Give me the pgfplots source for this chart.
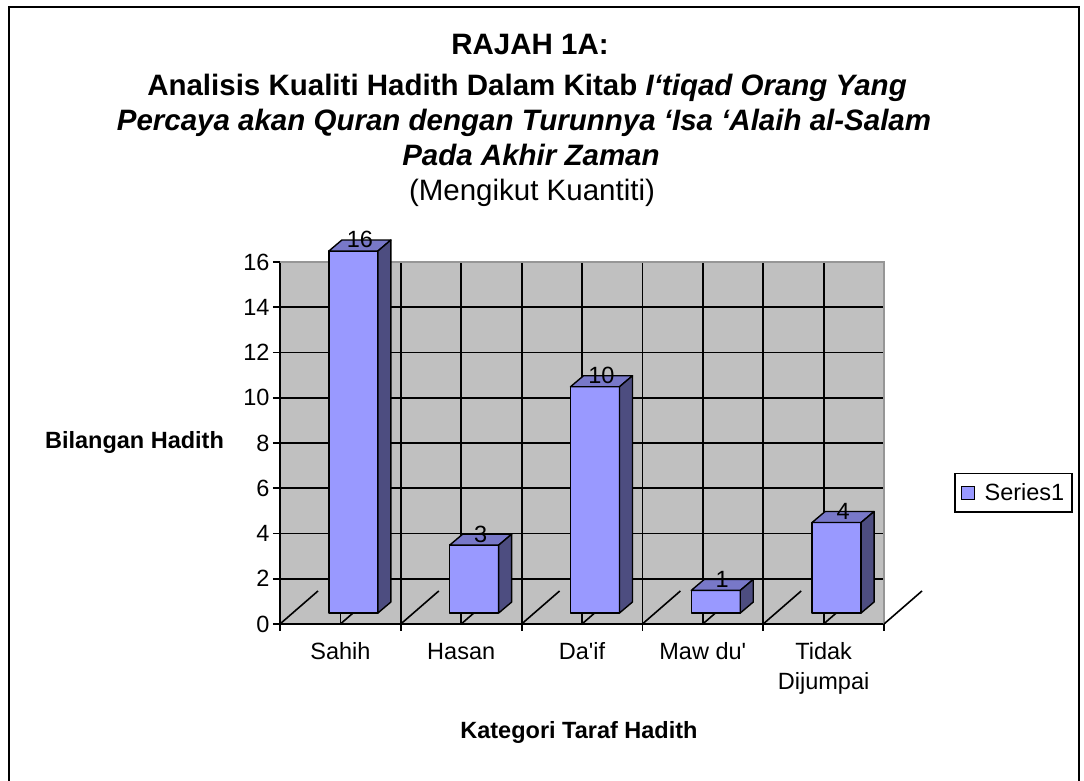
\documentclass[border=0pt]{standalone}
\usepackage{pgfplots}
\usepackage{pgfplotstable}
\pgfplotsset{compat=1.18}
\usepackage{fontspec}
\setmainfont{Liberation Sans}[Ligatures=TeXOff]
\definecolor{barfront}{HTML}{9999FF}
\definecolor{bartop}{HTML}{7878C8}
\definecolor{barside}{HTML}{4D4D80}
\definecolor{wall}{HTML}{C0C0C0}
\definecolor{walledge}{HTML}{969696}

\pgfplotstableread{
x v
0 16
1 3
2 10
3 1
4 4
}\hadith

% one 3-D column: #1 = category position, #2 = value
\newcommand\tdbar[2]{%
  \pgfmathsetmacro\xa{#1-0.0952}%
  \pgfmathsetmacro\xb{#1+0.3104}%
  \pgfmathsetmacro\xc{#1+0.4180}%
  \pgfmathsetmacro\xd{#1+0.0124}%
  \pgfmathsetmacro\yb{#2+0.486}%
  \pgfmathsetmacro\yc{#2+0.972}%
  \addplot[forget plot, fill=barfront, draw=black, line width=1.4pt, line join=round]
    coordinates {(\xa,0.486) (\xb,0.486) (\xb,\yb) (\xa,\yb)} -- cycle;
  \addplot[forget plot, fill=bartop, draw=black, line width=1.4pt, line join=round]
    coordinates {(\xa,\yb) (\xb,\yb) (\xc,\yc) (\xd,\yc)} -- cycle;
  \addplot[forget plot, fill=barside, draw=black, line width=1.4pt, line join=round]
    coordinates {(\xb,0.486) (\xc,0.972) (\xc,\yc) (\xb,\yb)} -- cycle;
}
\newcommand\lh{\rule{0pt}{18pt}}

\begin{document}
\begin{tikzpicture}
\useasboundingbox (0pt,0pt) rectangle (1084pt,781pt);
\draw[line width=2pt] (9pt,-5pt) -- (9pt,774pt) -- (1079pt,774pt) -- (1079pt,-5pt);

\begin{scope}[every node/.style={anchor=base, inner sep=0pt, font=\fontsize{29.5}{34}\selectfont\bfseries}]
\node at (530pt,726.4pt) {RAJAH 1A:};
\node at (527pt,685.4pt) {Analisis Kualiti Hadith Dalam Kitab \textit{I‘tiqad Orang Yang}};
\node at (524pt,650.4pt) {\itshape Percaya akan Quran dengan Turunnya ‘Isa ‘Alaih al-Salam};
\node at (531pt,615.4pt) {\itshape Pada Akhir Zaman};
\node[font=\fontsize{29.5}{34}\selectfont] at (532pt,580.4pt) {(Mengikut Kuantiti)};
\end{scope}

\begin{axis}[
  at={(280pt,157pt)}, anchor=south west,
  scale only axis, width=604pt, height=362pt,
  xmin=-0.5, xmax=4.5, ymin=0, ymax=16,
  clip=false,
  axis x line*=bottom, axis y line*=left,
  axis line style={line width=1.8pt, black, -},
  axis background/.style={fill=wall},
  xtick={-0.5,0.5,1.5,2.5,3.5,4.5}, xticklabels={},
  extra x ticks={0,1,2,3,4},
  extra x tick labels={\lh Sahih,\lh Hasan,\lh Da'if,\lh Maw du',{\lh Tidak\\[-1pt]Dijumpai}},
  extra x tick style={major tick length=0pt, grid=major,
     xticklabel style={align=center, yshift=-14pt}},
  ytick={0,2,...,16},
  tick align=outside, major tick length=7pt,
  tick style={line width=1.8pt, black},
  grid=major, major grid style={line width=1.8pt, black},
  /pgf/number format/assume math mode=true,
  tick label style={font=\fontsize{23.5}{31}\selectfont},
  every axis x label/.style={at={(axis description cs:0.495,-0.301)}, anchor=center},
  every axis y label/.style={at={(axis description cs:-0.2409,0.5028)}, anchor=center},
  label style={font=\fontsize{23.5}{28}\selectfont\bfseries},
  xlabel={Kategori Taraf Hadith},
  ylabel={Bilangan Hadith},
  legend style={at={(axis description cs:1.313,0.362)}, anchor=east,
     draw=black, line width=1.6pt, inner xsep=6pt, inner ysep=8pt,
     font=\fontsize{23.5}{28}\selectfont},
  legend cell align=left,
  legend image code/.code={\draw[fill=barfront, draw=black, line width=1.4pt] (0pt,-6.5pt) rectangle (13pt,6.5pt); \path (20pt,0pt);},
]
% wall edges (top and right) in grey
\draw[walledge, line width=2.6pt] (axis cs:-0.5,16) -- (axis cs:4.5,16) -- (axis cs:4.5,0);

% floor grid lines running back
\pgfplotsinvokeforeach{-0.5,0,0.5,1,1.5,2,2.5,3,3.5,4,4.5}{
  \pgfmathsetmacro\xe{#1+0.3146}
  \addplot[forget plot, black, line width=1.6pt] coordinates {(#1,0) (\xe,1.46)};
}

% 3-D columns
\pgfplotsinvokeforeach{0,1,2,3,4}{
  \pgfplotstablegetelem{#1}{v}\of\hadith
  \tdbar{#1}{\pgfplotsretval}
}

% data labels
\addplot[forget plot, draw=none, mark=none, nodes near coords, point meta=explicit,
  every node near coord/.append style={font=\fontsize{23.5}{28}\selectfont, inner sep=0pt, anchor=south}]
  table[x expr=\thisrow{x}+0.161, y expr=\thisrow{v}+0.6, meta=v] {\hadith};

\addlegendimage{black}
\addlegendentry{Series1}
\end{axis}
\end{tikzpicture}
\end{document}
